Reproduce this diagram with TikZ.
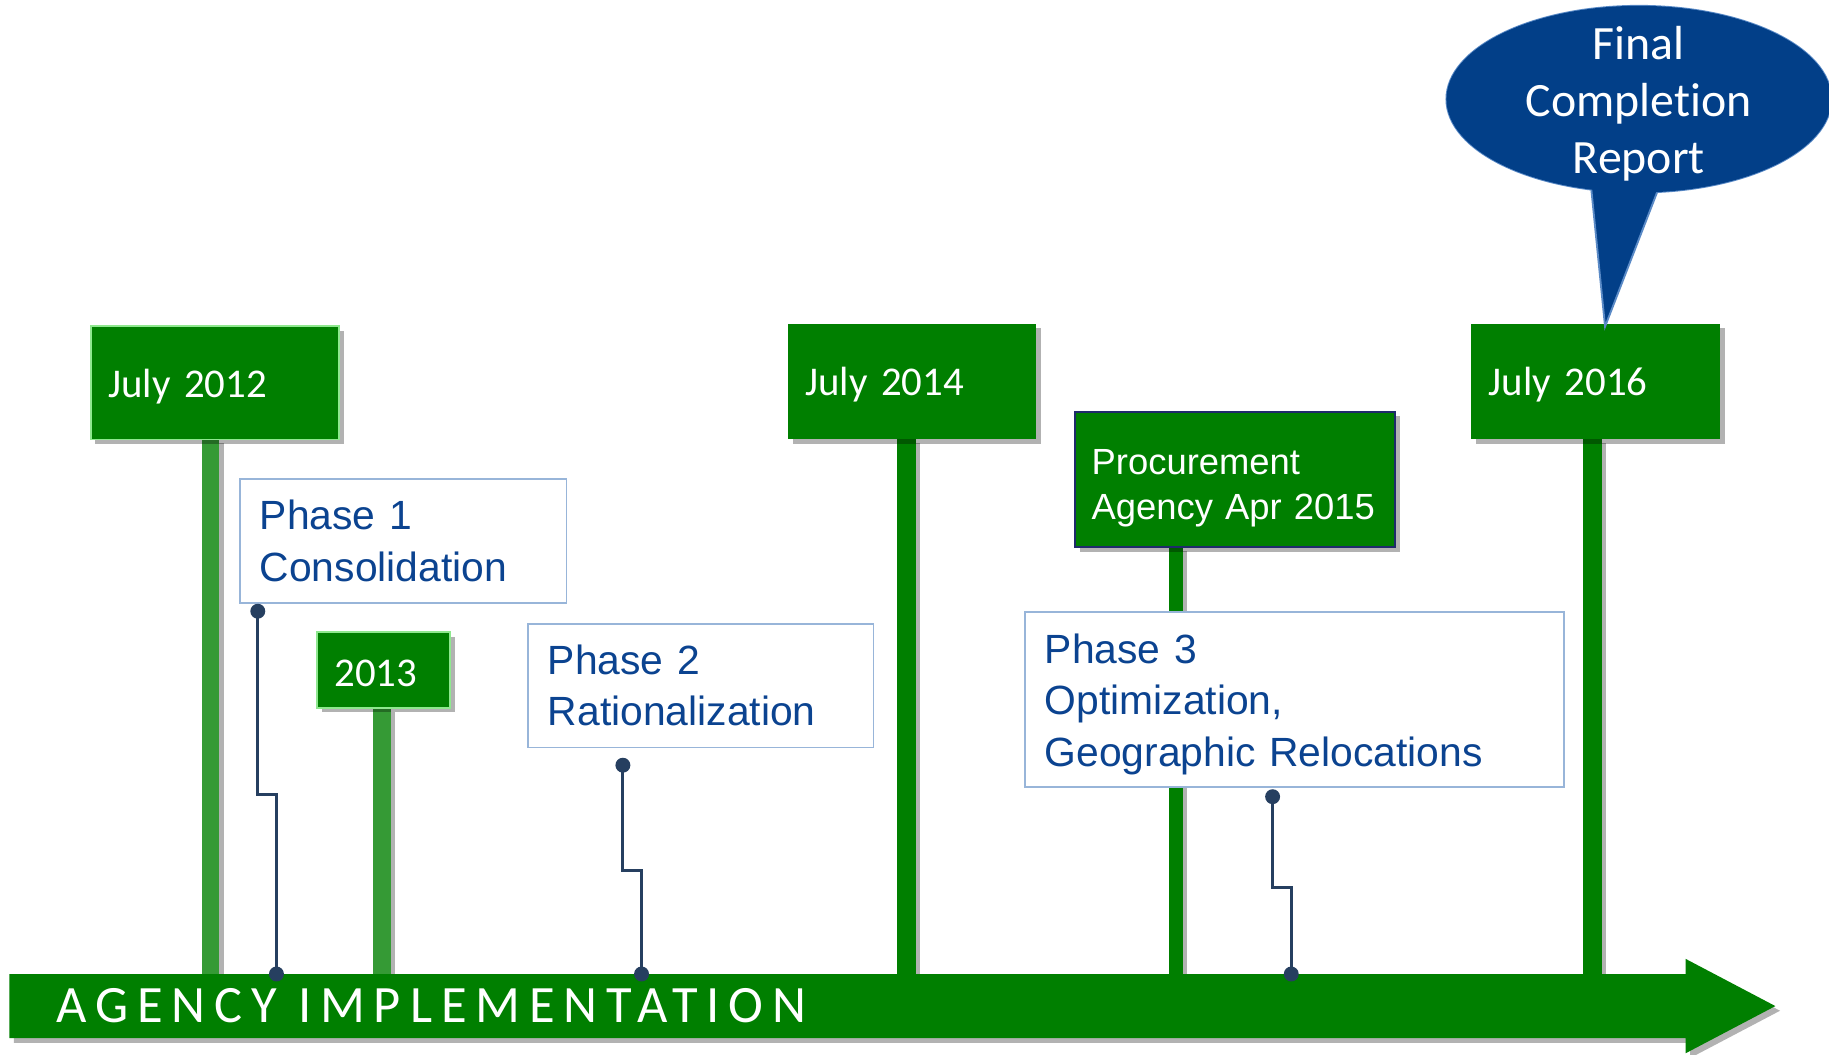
\documentclass[tikz,border=0pt]{standalone}
\usepackage{fontspec}
\setmainfont{Liberation Sans}
\newfontfamily\calfont[WordSpace=0.65,RawFeature=-liga]{Carlito}
\newfontfamily\bandfont[LetterSpace=17,RawFeature=-liga]{Carlito}
\usetikzlibrary{shadows}
\newcommand{\topstrut}[1]{\rule{0pt}{#1}}
\definecolor{tgreen}{HTML}{007F00}
\definecolor{tlgreen}{HTML}{359A35}
\definecolor{bordergreen}{HTML}{8FE88F}
\definecolor{tblue}{HTML}{0B4390}
\definecolor{pborder}{HTML}{98B5D9}
\definecolor{navy}{HTML}{263F60}
\definecolor{cfill}{HTML}{023F88}
\definecolor{cborder}{HTML}{5A8AC6}
\definecolor{pnavy}{HTML}{1F2A6B}
\begin{document}
\begin{tikzpicture}[x=1pt,y=-1pt,
  shd/.style={drop shadow={shadow xshift=2pt,shadow yshift=-2pt,opacity=0.3,fill=black}},
  datebox/.style={shd,rectangle,fill=tgreen,anchor=north west,inner xsep=7.5pt,inner ysep=0pt,
    align=left,text=white,font=\calfont\fontsize{17.5}{21}\selectfont},
  phasebox/.style={rectangle,fill=white,draw=pborder,line width=0.7pt,anchor=north west,
    inner xsep=8.5pt,inner ysep=0pt,align=left,text=tblue,font=\fontsize{17.5}{22}\selectfont},
  procbox/.style={shd,rectangle,fill=tgreen,draw=pnavy,line width=0.9pt,anchor=north west,
    inner xsep=7pt,inner ysep=0pt,align=left,text=white,font=\fontsize{15.6}{19}\selectfont},
  conn/.style={draw=navy,line width=1.3pt},
  dot/.style={fill=navy},
  pole/.style={shd,fill=tgreen},
  lpole/.style={shd,fill=tlgreen}
]
\useasboundingbox (0,0) rectangle (784,452);

% poles
\path[lpole] (86.5,188) rectangle (94,417.5);
\path[lpole] (160,303) rectangle (167.5,417.5);
\path[pole] (384.5,188) rectangle (392.5,417.5);
\path[pole] (501,234) rectangle (507,417.5);
\path[pole] (678.5,188) rectangle (686.5,417.5);

% date boxes
\node[datebox,draw=bordergreen,line width=0.8pt,text width=91.5pt,minimum height=48.5pt] (d12) at (38.5,139.5) {\topstrut{15pt}July 2012};
\node[datebox,draw=bordergreen,line width=0.8pt,text width=42pt,minimum height=32.5pt,inner xsep=7.5pt] (d13) at (135.5,270.5) {\topstrut{14pt}2013};
\node[datebox,text width=91.5pt,minimum height=49.5pt] (d14) at (337.5,138.5) {\topstrut{15pt}July 2014};
\node[datebox,text width=91.5pt,minimum height=49.5pt] (d16) at (630.5,138.5) {\topstrut{15pt}July 2016};

% procurement
\node[procbox,text width=123pt,minimum height=58pt] (proc) at (460.5,176) {\topstrut{18.4pt}Procurement\\Agency Apr 2015};

% phase boxes
\node[phasebox,text width=123pt,minimum height=53pt] (ph1) at (102.5,205) {Phase 1\\Consolidation};
\node[phasebox,text width=131pt,minimum height=53pt] (ph2) at (226,267) {Phase 2\\Rationalization};
\node[phasebox,text width=214pt,minimum height=75pt] (ph3) at (439,262) {\topstrut{16.8pt}Phase 3\\Optimization,\\Geographic Relocations};

% axis arrow
\path[shd,fill=tgreen] (4,417.5) -- (722.5,417.5) -- (722.5,411) -- (761,431.25) -- (722.5,451.5) -- (722.5,445) -- (4,445) -- cycle;
\node[anchor=base west,inner sep=0pt,text=white,font=\bandfont\fontsize{22.5}{27}\selectfont] (band) at (24,438.5) {AGENCY IMPLEMENTATION};

% connectors
\coordinate (c1a) at (110.5,262);
\coordinate (c1k) at (118.5,340.5);
\coordinate (c1b) at (118.5,417.5);
\coordinate (c2a) at (267,328);
\coordinate (c2k) at (275,373);
\coordinate (c2b) at (275,417.5);
\coordinate (c3a) at (545.5,341.5);
\coordinate (c3k) at (553.5,380.5);
\coordinate (c3b) at (553.5,417.5);
\draw[conn] (c1a) -- (c1a |- c1k) -- (c1k) -- (c1b);
\draw[conn] (c2a) -- (c2a |- c2k) -- (c2k) -- (c2b);
\draw[conn] (c3a) -- (c3a |- c3k) -- (c3k) -- (c3b);
\foreach \c in {c1a,c1b,c2a,c2b,c3a,c3b} \fill[dot] (\c) circle (3.2pt);

% callout
\fill[cfill,draw=cborder,line width=0.8pt] (702.5,42.5) ellipse [x radius=82.5,y radius=40];
\fill[cfill,draw=cborder,line width=0.8pt] (680,60) -- (688,140) -- (719,60) -- cycle;
\fill[cfill] (702.5,42.5) ellipse [x radius=82.5,y radius=40];
\node[text=white,align=center,inner sep=0pt,font=\calfont\fontsize{20.5}{24.5}\selectfont] (fcr) at (702.5,44.5) {Final\\Completion\\Report};
\end{tikzpicture}
\end{document}
